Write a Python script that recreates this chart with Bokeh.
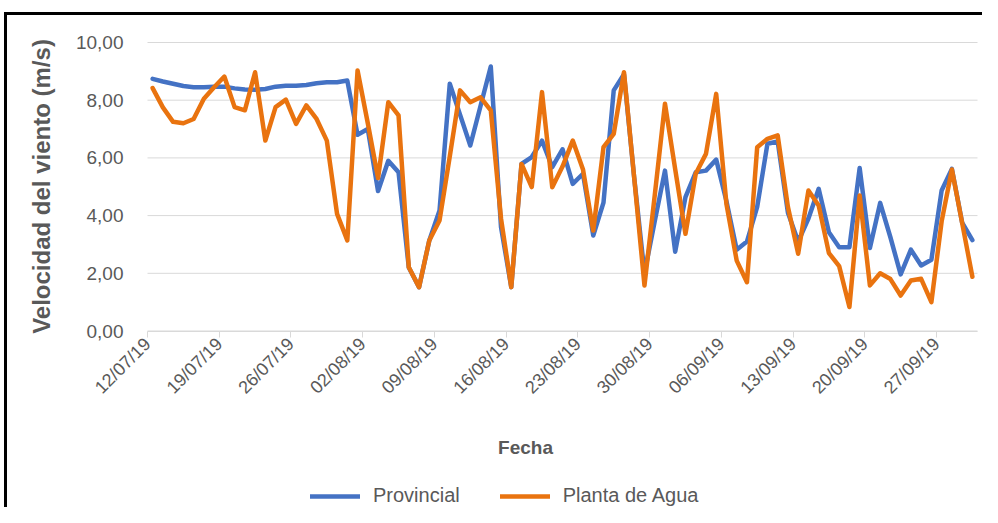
from datetime import datetime, timedelta
import pandas as pd
from bokeh.plotting import figure
from bokeh.models import (Range1d, FixedTicker, DatetimeTickFormatter, Label,
                          InlineStyleSheet)
from bokeh.embed import file_html
from bokeh.resources import INLINE
import math

# ---------------- data ----------------
start_date = "2019-07-12"
end_date = "2019-09-30"
axis_end_date = "2019-10-01"

provincial = [8.74, 8.65, 8.57, 8.49, 8.45, 8.45, 8.47, 8.47, 8.41, 8.37,
              8.36, 8.39, 8.47, 8.50, 8.50, 8.53, 8.59, 8.62, 8.62, 8.68,
              6.80, 7.00, 4.85, 5.90, 5.50, 2.20, 1.52, 3.14, 4.18, 8.57,
              7.50, 6.43, 7.80, 9.17, 3.60, 1.52, 5.79, 6.03, 6.60, 5.68,
              6.30, 5.10, 5.45, 3.31, 4.45, 8.34, 8.90, 5.30, 2.00, 3.80,
              5.56, 2.75, 4.64, 5.50, 5.56, 5.94, 4.50, 2.82, 3.10, 4.30,
              6.49, 6.57, 4.10, 3.10, 3.90, 4.93, 3.42, 2.90, 2.90, 5.65,
              2.88, 4.44, 3.25, 1.96, 2.82, 2.27, 2.47, 4.87, 5.62, 3.76,
              3.15]

planta_agua = [8.42, 7.75, 7.25, 7.20, 7.35, 8.05, 8.45, 8.82, 7.76, 7.65,
               8.97, 6.60, 7.76, 8.02, 7.18, 7.82, 7.35, 6.60, 4.06, 3.14,
               9.03, 7.20, 5.30, 7.93, 7.47, 2.21, 1.52, 3.14, 3.83, 6.05,
               8.34, 7.93, 8.10, 7.65, 3.90, 1.52, 5.79, 4.99, 8.28, 4.98,
               5.70, 6.60, 5.60, 3.48, 6.37, 6.83, 8.97, 5.30, 1.58, 4.70,
               7.88, 5.60, 3.37, 5.45, 6.14, 8.22, 4.40, 2.44, 1.69, 6.37,
               6.66, 6.78, 4.30, 2.68, 4.87, 4.35, 2.70, 2.25, 0.83, 4.70,
               1.58, 2.00, 1.80, 1.23, 1.75, 1.81, 1.00, 3.80, 5.60, 3.75,
               1.88]

x_tick_labels = ["12/07/19", "19/07/19", "26/07/19", "02/08/19", "09/08/19",
                 "16/08/19", "23/08/19", "30/08/19", "06/09/19", "13/09/19",
                 "20/09/19", "27/09/19"]
y_ticks = [0, 2, 4, 6, 8, 10]
y_tick_labels = ["0,00", "2,00", "4,00", "6,00", "8,00", "10,00"]

series_names = ["Provincial", "Planta de Agua"]
series_colors = ["#4472C4", "#E9730F"]

# ---------------- layout (pixels) ----------------
W, H = 982, 507
PLOT_L, PLOT_R, PLOT_T, PLOT_B = 147, 977, 42, 330.5
FONT = "Liberation Sans"
GREY = "#595959"
GRID = "#d9d9d9"

dates = pd.date_range(start_date, end_date, freq="D")
# Excel date axis "between tick marks": each daily point centred in its day slot
x_pts = dates + pd.Timedelta(hours=12)

x0 = pd.Timestamp(start_date)
x1 = pd.Timestamp(axis_end_date)
y0, y1 = min(y_ticks), max(y_ticks)

# the frame covers the whole canvas; data window [x0,x1]x[y0,y1] maps to PLOT_* pixels
day_px = (PLOT_R - PLOT_L) / ((x1 - x0) / pd.Timedelta(days=1))
unit_px = (PLOT_B - PLOT_T) / (y1 - y0)
xr = Range1d(x0 - pd.Timedelta(days=PLOT_L / day_px),
             x0 + pd.Timedelta(days=(W - PLOT_L) / day_px))
yr = Range1d(y0 - (H - PLOT_B) / unit_px, y1 + PLOT_T / unit_px)

p = figure(width=W, height=H, x_axis_type="datetime",
           output_backend="svg", toolbar_location=None,
           min_border=0, min_border_left=0, min_border_right=0,
           min_border_top=0, min_border_bottom=0,
           x_range=xr, y_range=yr)
p.outline_line_color = None
p.background_fill_color = "white"
p.border_fill_color = "white"
p.xgrid.visible = False
p.ygrid.visible = False

# horizontal gridlines at the y ticks, spanning the date window
p.segment(x0=[x0] * len(y_ticks), x1=[x1] * len(y_ticks), y0=y_ticks, y1=y_ticks,
          line_color=GRID, line_width=1)

renderers = []
for vals, name, col in zip([provincial, planta_agua], series_names, series_colors):
    r = p.line(x_pts, vals, line_color=col, line_width=4.5, line_join="round",
               line_cap="round", legend_label=name)
    renderers.append(r)

# x axis (fixed at y = 0)
tick_dates = pd.to_datetime(x_tick_labels, format="%d/%m/%y")
xa = p.xaxis[0]
xa.fixed_location = 0
xa.bounds = (x0.to_pydatetime(), x1.to_pydatetime())
xa.ticker = FixedTicker(ticks=[d.timestamp() * 1000 for d in tick_dates])
fmt = "%d/%m/%y"
xa.formatter = DatetimeTickFormatter(
    microseconds=fmt, milliseconds=fmt, seconds=fmt, minsec=fmt, minutes=fmt,
    hourmin=fmt, hours=fmt, days=fmt, months=fmt, years=fmt)
xa.major_label_orientation = math.pi / 4
xa.major_label_text_font = FONT
xa.major_label_text_font_size = "18px"
xa.major_label_text_color = GREY
xa.major_label_standoff = 4
xa.axis_line_color = GRID
xa.major_tick_line_color = GRID
xa.major_tick_out = 6
xa.major_tick_in = 0
xa.minor_tick_line_color = None

# y axis (fixed at the first date)
ya = p.yaxis[0]
ya.fixed_location = x0.timestamp() * 1000
ya.bounds = (y0, y1)
ya.ticker = FixedTicker(ticks=y_ticks)
ya.major_label_overrides = dict(zip(y_ticks, y_tick_labels))
ya.major_label_text_font = FONT
ya.major_label_text_font_size = "19px"
ya.major_label_text_color = GREY
ya.axis_line_color = None
ya.major_tick_line_color = None
ya.minor_tick_line_color = None
ya.major_tick_out = 0
ya.major_tick_in = 0
ya.major_label_standoff = 24

# axis titles (screen units measured from the canvas bottom-left)
p.add_layout(Label(x=525, y=H - 447, x_units="screen", y_units="screen",
                   text="Fecha", text_font=FONT, text_font_style="bold",
                   text_font_size="19px", text_color=GREY,
                   text_align="center", text_baseline="middle"))
p.add_layout(Label(x=41, y=H - 186, x_units="screen", y_units="screen",
                   text="Velocidad del viento (m/s)", angle=math.pi / 2,
                   text_font=FONT, text_font_style="bold",
                   text_font_size="24px", text_color=GREY,
                   text_align="center", text_baseline="middle"))

# legend
lg = p.legend[0]
lg.orientation = "horizontal"
lg.location = (310, 0)
lg.label_text_font = FONT
lg.label_text_font_size = "20px"
lg.label_text_color = GREY
lg.glyph_width = 50
lg.glyph_height = 16
lg.label_height = 16
lg.label_standoff = 13
lg.spacing = 40
lg.padding = 0
lg.margin = 0
lg.border_line_color = None
lg.background_fill_alpha = 0

# outer frame of the picture (left / top edges)
p.stylesheets = [InlineStyleSheet(css=(
    ":host::after{content:'';position:absolute;left:4px;top:12px;width:978px;"
    "height:495px;box-sizing:border-box;border-left:3px solid #000;"
    "border-top:3px solid #000;pointer-events:none;z-index:100;}"))]

open("out.html", "w").write(file_html(p, INLINE))
